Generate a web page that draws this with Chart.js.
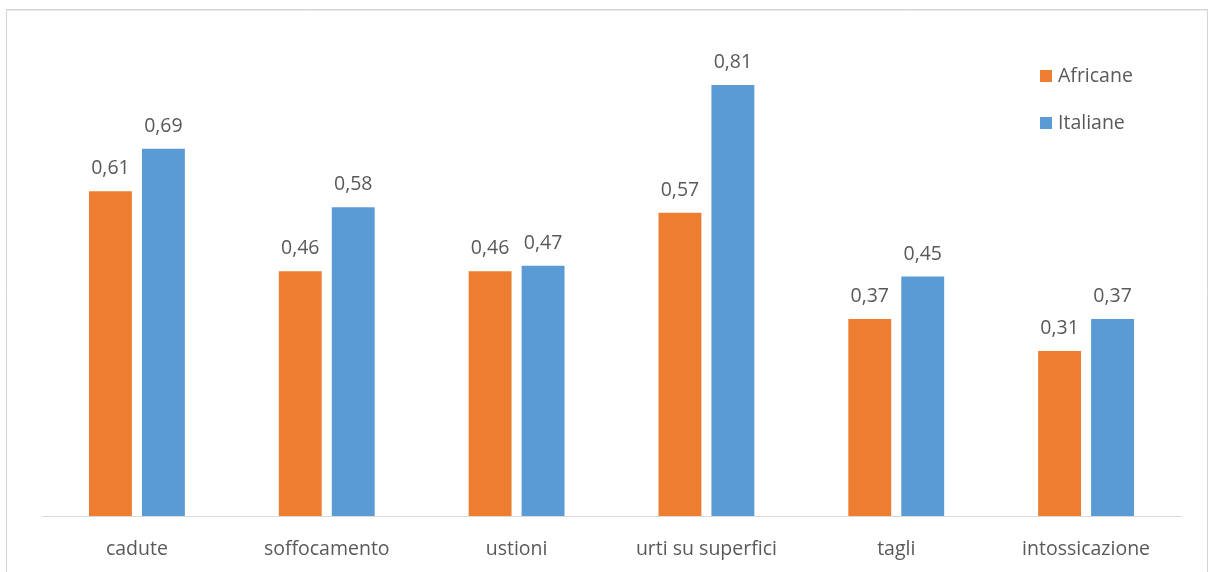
<!DOCTYPE html>
<html>
<head>
<meta charset="utf-8">
<script src="https://cdn.jsdelivr.net/npm/chart.js@4/dist/chart.umd.min.js"></script>
<style>
  html, body { margin: 0; padding: 0; background: #ffffff; }
  #wrap { width: 1210px; height: 572px; position: relative; }
</style>
</head>
<body>
<div id="wrap"><canvas id="c" width="1210" height="572"></canvas></div>
<script>
// Categorie e valori per serie
const categories = ['cadute', 'soffocamento', 'ustioni', 'urti su superfici', 'tagli', 'intossicazione'];
const africane = [0.61, 0.46, 0.46, 0.57, 0.37, 0.31];
const italiane = [0.69, 0.58, 0.47, 0.81, 0.45, 0.37];
const seriesNames = ['Africane', 'Italiane'];
const seriesColors = ['#ED7D31', '#5B9BD5'];

const FONT = "'Open Sans', Lato, 'DejaVu Sans', sans-serif";
const TEXT = '#595959';
const SIZE = 19.5;

// Cornice esterna del grafico
const framePlugin = {
  id: 'frame',
  beforeDraw(chart) {
    const ctx = chart.ctx;
    ctx.save();
    ctx.fillStyle = '#ffffff';
    ctx.fillRect(0, 0, chart.width, chart.height);
    ctx.strokeStyle = '#d4d4d4';
    ctx.lineWidth = 1;
    ctx.beginPath();
    ctx.moveTo(6.5, chart.height + 2);
    ctx.lineTo(6.5, 9.5);
    ctx.lineTo(1207.5, 9.5);
    ctx.lineTo(1207.5, chart.height + 2);
    ctx.stroke();
    ctx.strokeStyle = '#ececec';
    ctx.beginPath();
    ctx.moveTo(7, 10.5);
    ctx.lineTo(1207, 10.5);
    ctx.stroke();
    ctx.restore();
  }
};

// Etichette dei valori sopra le barre
const valueLabels = {
  id: 'valueLabels',
  afterDatasetsDraw(chart) {
    const ctx = chart.ctx;
    ctx.save();
    ctx.font = SIZE + 'px ' + FONT;
    ctx.fillStyle = TEXT;
    ctx.textAlign = 'center';
    ctx.textBaseline = 'alphabetic';
    chart.data.datasets.forEach((ds, i) => {
      const meta = chart.getDatasetMeta(i);
      meta.data.forEach((bar, j) => {
        const txt = ds.data[j].toFixed(2).replace('.', ',');
        ctx.fillText(txt, bar.x, bar.y - 17);
      });
    });
    ctx.restore();
  }
};

// Legenda verticale in alto a destra
const sideLegend = {
  id: 'sideLegend',
  afterDraw(chart) {
    const ctx = chart.ctx;
    ctx.save();
    ctx.font = SIZE + 'px ' + FONT;
    ctx.textBaseline = 'middle';
    ctx.textAlign = 'left';
    chart.data.datasets.forEach((ds, i) => {
      const y = 76 + i * 47;
      ctx.fillStyle = ds.backgroundColor;
      ctx.fillRect(1040, y - 6, 12, 12);
      ctx.fillStyle = TEXT;
      ctx.fillText(ds.label, 1058, y);
    });
    ctx.restore();
  }
};

new Chart(document.getElementById('c'), {
  type: 'bar',
  data: {
    labels: categories,
    datasets: [
      { label: seriesNames[0], data: africane, backgroundColor: seriesColors[0] },
      { label: seriesNames[1], data: italiane, backgroundColor: seriesColors[1] }
    ]
  },
  options: {
    responsive: false,
    animation: false,
    devicePixelRatio: 1,
    categoryPercentage: 0.558,
    barPercentage: 0.81,
    layout: { padding: { left: 42, right: 29, top: 37, bottom: 0 } },
    plugins: {
      legend: { display: false },
      tooltip: { enabled: false }
    },
    scales: {
      x: {
        grid: { display: false, drawTicks: false },
        border: { display: true, color: '#d9d9d9', width: 1 },
        ticks: {
          color: TEXT,
          font: { family: FONT, size: SIZE },
          padding: 22,
          maxRotation: 0
        },
        afterFit(scale) { scale.height = 56; }
      },
      y: {
        display: false,
        min: 0,
        max: 0.9
      }
    }
  },
  plugins: [framePlugin, valueLabels, sideLegend]
});
</script>
</body>
</html>
